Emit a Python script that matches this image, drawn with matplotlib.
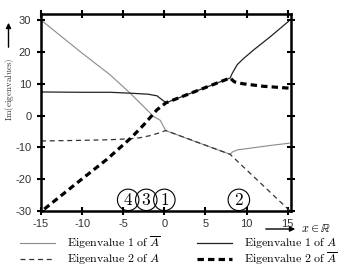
import matplotlib
matplotlib.use("Agg")
import matplotlib.pyplot as plt
from matplotlib.lines import Line2D
import numpy as np

plt.rcParams['mathtext.fontset'] = 'cm'

# Eigenvalue 1 of A-bar (thin gray)
x_b1 = [-15, -10, -6.6, -4.15, -1.3, -0.5, 0.15, 4, 8, 8.25, 8.87, 10.9, 12.9, 15.2]
y_b1 = [30, 19.6, 12.8, 7.0, -0.3, -1.5, -4.7, -8.4, -12.2, -11.5, -10.8, -10.1, -9.4, -8.7]

# Eigenvalue 2 of A (thin dashed)
x_a2 = [-15, -10, -6.6, -4.2, -3, -1.7, -0.3, 0.15, 8, 15.2]
y_a2 = [-8.0, -7.8, -7.6, -7.3, -7.0, -6.3, -5.2, -4.7, -12.2, -29.8]

# Eigenvalue 1 of A (solid)
x_a1 = [-15, -10, -6.6, -4, -2, -0.9, -0.3, 0.2, 8, 8.26, 8.87, 9.67, 10.9, 12.9, 15.1]
y_a1 = [7.4, 7.3, 7.3, 7.0, 6.7, 6.2, 5.0, 4.0, 11.8, 13.3, 16.0, 18.0, 20.7, 24.8, 29.6]

# Eigenvalue 2 of A-bar (thick dashed)
x_b2 = [-14.6, -10, -7, -4, -2.5, -0.9, 0.2, 8, 8.5, 9.5, 12, 15.2]
y_b2 = [-29.4, -19.9, -13.8, -6.9, -2.9, 1.8, 4.0, 11.8, 10.6, 10.0, 9.2, 8.6]

labels = [r'$\mathrm{Eigenvalue\ 1\ of\ }\overline{A}$',
          r'$\mathrm{Eigenvalue\ 2\ of\ }A$',
          r'$\mathrm{Eigenvalue\ 1\ of\ }A$',
          r'$\mathrm{Eigenvalue\ 2\ of\ }\overline{A}$']

circ_labels = ['4', '3', '1', '2']
circ_x = [-4.4, -2.2, 0.0, 9.06]
circ_y = [-26.5, -26.5, -26.5, -26.5]

xticks = [-15, -10, -5, 0, 5, 10, 15]
yticks = [-30, -20, -10, 0, 10, 20, 30]

W, H = 356, 267
fig = plt.figure(figsize=(W/100, H/100), dpi=100)
ax = fig.add_axes([41/W, 1-211/H, (291-41)/W, (211-14)/H])

styles = [dict(color='#8a8a8a', lw=0.8),
          dict(color='#333333', lw=0.9, dashes=(4, 3)),
          dict(color='#222222', lw=0.9),
          dict(color='black', lw=2.3, dashes=(2.0, 1.3))]

for (xs, ys), st, lab in zip([(x_b1, y_b1), (x_a2, y_a2), (x_a1, y_a1), (x_b2, y_b2)], styles, labels):
    ax.plot(xs, ys, label=lab, **st)

ax.set_xlim(-15, 15.4)
ax.set_ylim(-30, 31.9)
ax.set_xticks(xticks)
ax.set_yticks(yticks)
ax.set_xticklabels([str(t) for t in xticks], family='Liberation Sans', fontsize=8, color='#333333')
ax.set_yticklabels([str(t) for t in yticks], family='Liberation Sans', fontsize=8, color='#333333')
ax.tick_params(direction='inout', length=6, width=1.5, top=True, right=True, pad=3)
ax.tick_params(axis='y', pad=4)
for s in ax.spines.values():
    s.set_linewidth(1.8)

for lab, cx, cy in zip(circ_labels, circ_x, circ_y):
    ax.text(cx, cy, '$' + lab + '$', fontsize=12.5, ha='center', va='center',
            bbox=dict(boxstyle='circle,pad=0.1', fc='none', ec='black', lw=0.8))

# y-axis label with arrow
fig.text(10/W, 1-89/H, r'$\mathrm{Im(eigenvalues)}$', rotation=90, fontsize=6.5,
         ha='center', va='center', color='#333333')
fig.add_artist(matplotlib.patches.FancyArrowPatch((8.5/W, 1-50/H), (8.5/W, 1-20/H),
               transform=fig.transFigure, arrowstyle='-|>,head_length=3,head_width=1.5',
               lw=1.0, color='black'))
# x-axis label with arrow
fig.add_artist(matplotlib.patches.FancyArrowPatch((263/W, 1-229/H), (298/W, 1-229/H),
               transform=fig.transFigure, arrowstyle='-|>,head_length=3,head_width=1.5',
               lw=1.0, color='black'))
fig.text(301/W, 1-229/H, r'$x \in \mathbb{R}$', fontsize=8.8, ha='left', va='center')

# legend drawn manually (2 columns)
leg_pos = [(20, 242.5), (20, 258.5), (197, 242.5), (197, 258.5)]
for (px, py), st, lab in zip(leg_pos, styles, labels):
    fig.add_artist(Line2D([px/W, (px+35)/W], [1-py/H, 1-py/H], transform=fig.transFigure, **st))
    fig.text((px+47)/W, 1-py/H, lab, fontsize=8.6, ha='left', va='center')

fig.savefig('out.png', dpi=100)
